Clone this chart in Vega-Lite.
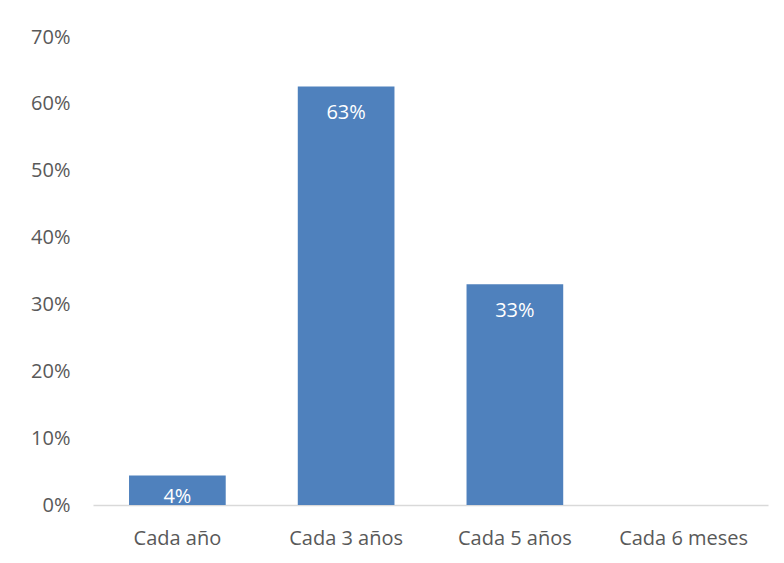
{
  "$schema": "https://vega.github.io/schema/vega-lite/v6.json",
  "width": 675,
  "height": 468,
  "autosize": {"type": "none"},
  "padding": {"left": 93, "top": 37, "right": 16, "bottom": 58},
  "background": "white",
  "config": {
    "view": {"stroke": null},
    "font": "Open Sans",
    "axis": {"labelFont": "Open Sans", "labelFontSize": 20, "labelColor": "#595959", "grid": false, "ticks": false, "title": null}
  },
  "data": {
    "values": [
      {"frecuencia": "Cada año", "valor": 0.044},
      {"frecuencia": "Cada 3 años", "valor": 0.626},
      {"frecuencia": "Cada 5 años", "valor": 0.330},
      {"frecuencia": "Cada 6 meses", "valor": 0.0}
    ]
  },
  "encoding": {
    "x": {
      "field": "frecuencia", "type": "nominal", "sort": null,
      "scale": {"paddingInner": 0.427, "paddingOuter": 0.2135},
      "axis": {"labelAngle": 0, "labelPadding": 23, "domainColor": "#D9D9D9", "domainWidth": 1.5}
    },
    "y": {
      "field": "valor", "type": "quantitative",
      "scale": {"domain": [0, 0.7], "nice": false},
      "axis": {"values": [0, 0.1, 0.2, 0.3, 0.4, 0.5, 0.6, 0.7], "format": ".0%", "domain": false, "labelPadding": 23}
    }
  },
  "layer": [
    {"mark": {"type": "bar", "color": "#4F81BD"}},
    {
      "transform": [{"filter": "datum.valor >= 0.1"}],
      "mark": {"type": "text", "color": "white", "fontSize": 20, "baseline": "top", "dy": 17, "font": "Open Sans"},
      "encoding": {"text": {"field": "valor", "type": "quantitative", "format": ".0%"}}
    },
    {
      "transform": [{"filter": "datum.valor > 0 && datum.valor < 0.1"}],
      "mark": {"type": "text", "color": "white", "fontSize": 20, "baseline": "top", "dy": 11, "font": "Open Sans"},
      "encoding": {"text": {"field": "valor", "type": "quantitative", "format": ".0%"}}
    }
  ]
}
